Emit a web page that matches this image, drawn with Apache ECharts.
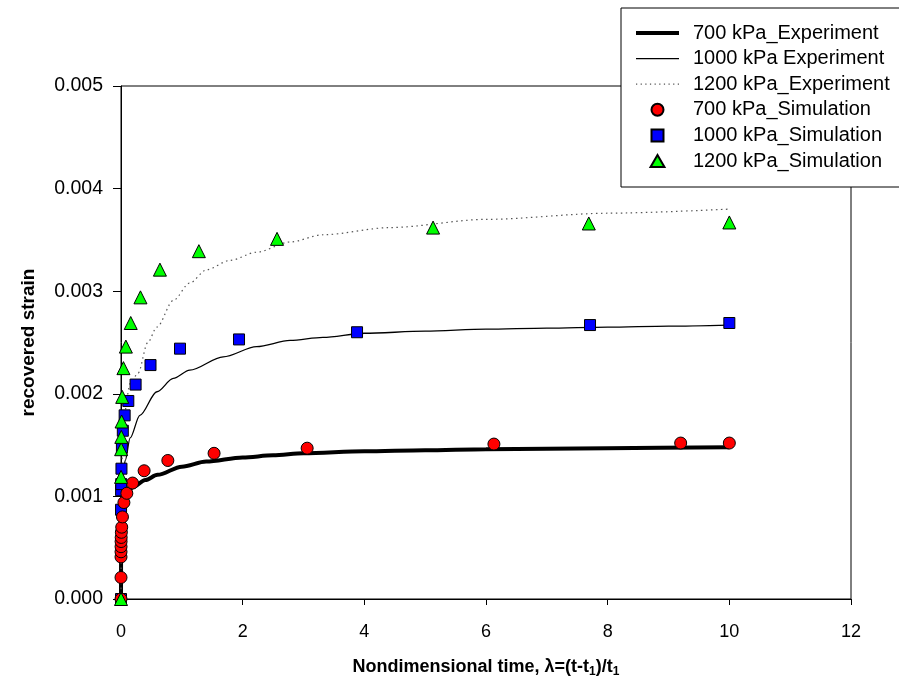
<!DOCTYPE html>
<html>
<head>
<meta charset="utf-8">
<script src="https://cdn.jsdelivr.net/npm/echarts@6/dist/echarts.min.js"></script>
<style>html,body{margin:0;padding:0;background:#fff}#c{width:899px;height:689px}</style>
</head>
<body>
<div id="c"></div>
<script>
// ---- data (x = nondimensional time, y = recovered strain) ----
const exp700 = [[0,0],[0.002,0.0005],[0.01,0.00085],[0.03,0.00097],[0.08,0.00103],[0.2,0.00109],[0.4,0.00116],[0.6,0.00121],[1.0,0.00129],[1.4,0.00134],[2.0,0.00138],[2.5,0.0014],[3.0,0.00142],[4.0,0.00144],[5,0.00145],[6,0.00146],[8,0.00147],[10,0.00148]];
const exp1000 = [[0,0],[0.005,0.0008],[0.03,0.0012],[0.07,0.00135],[0.15,0.00157],[0.31,0.00179],[0.59,0.00202],[0.86,0.00215],[1.13,0.00223],[1.68,0.00236],[2.23,0.00246],[2.78,0.00252],[3.32,0.00255],[4.0,0.00259],[5,0.00261],[6,0.00263],[7,0.00264],[8,0.00265],[9,0.00266],[10,0.00267]];
const exp1200 = [[0,0],[0.01,0.0013],[0.05,0.0018],[0.15,0.0021],[0.28,0.0022],[0.44,0.0025],[0.59,0.00265],[0.86,0.00291],[1.13,0.00308],[1.41,0.00321],[1.79,0.0033],[2.23,0.00338],[2.78,0.00348],[3.32,0.00355],[4.42,0.00362],[6,0.0037],[8,0.00376],[10,0.0038]];
const sim700 = [[0,0],[0.0001,0.00021],[0.0002,0.00041],[0.0004,0.00046],[0.0008,0.00051],[0.0015,0.00056],[0.003,0.0006],[0.006,0.00065],[0.012,0.0007],[0.024,0.0008],[0.048,0.00094],[0.096,0.00103],[0.19,0.00113],[0.38,0.00125],[0.77,0.00135],[1.53,0.00142],[3.06,0.00147],[6.13,0.00151],[9.2,0.00152],[10,0.00152]];
const sim1000 = [[0,0],[0.001,0.00087],[0.002,0.00106],[0.004,0.00112],[0.0075,0.00127],[0.015,0.00148],[0.03,0.00164],[0.06,0.00179],[0.12,0.00193],[0.24,0.00209],[0.485,0.00228],[0.97,0.00244],[1.94,0.00253],[3.88,0.0026],[7.71,0.00267],[10,0.00269]];
const sim1200 = [[0,0],[0.00125,0.00119],[0.0025,0.00146],[0.005,0.00158],[0.01,0.00173],[0.02,0.00197],[0.04,0.00225],[0.08,0.00246],[0.16,0.00269],[0.32,0.00294],[0.64,0.00321],[1.28,0.00339],[2.565,0.00351],[5.13,0.00362],[7.69,0.00366],[10,0.00367]];
const xTicks = {min: 0, max: 12, interval: 2};
const yTicks = {min: 0, max: 0.005, interval: 0.001};
const names = ['700 kPa_Experiment','1000 kPa Experiment','1200 kPa_Experiment','700 kPa_Simulation','1000 kPa_Simulation','1200 kPa_Simulation'];

const chart = echarts.init(document.getElementById('c'), null, {renderer: 'canvas'});
const sans = '"Liberation Sans", Arial, sans-serif';
const mk = {borderColor: '#000', borderWidth: 1, opacity: 1};
let dots = '';
for (let i = 0; i < 10; i++) dots += 'M' + (i * 4.5) + ',0h1.2v1.2h-1.2z';
const legendIcons = [
  'path://M0,0H43V4H0Z',
  'path://M0,0H43V1.3H0Z',
  'path://' + dots,
  'circle',
  'path://M0,0H10V10H0Z',
  'path://M5.5,0L11,9.5L0,9.5Z'
];
chart.setOption({
  animation: false,
  backgroundColor: '#fff',
  grid: {left: 121, right: 48, top: 86, bottom: 90, show: true, borderColor: '#000', borderWidth: 1, backgroundColor: 'transparent'},
  legend: {
    orient: 'vertical', left: 621, top: 8,
    padding: [15, 50, 16, 15],
    backgroundColor: '#fff', borderColor: '#000', borderWidth: 1, borderRadius: 0,
    itemWidth: 43, itemHeight: 12, itemGap: 5.6, symbolKeepAspect: true,
    textStyle: {fontFamily: sans, fontSize: 20, lineHeight: 20, color: '#000', padding: [0, 0, 0, 9]},
    data: names.map((n, i) => {
      const d = {name: n, icon: legendIcons[i]};
      if (i < 3) d.itemStyle = {borderWidth: 0, color: i === 2 ? '#555' : '#000'};
      return d;
    })
  },
  xAxis: {
    type: 'value', min: xTicks.min, max: xTicks.max, interval: xTicks.interval,
    name: 'Nondimensional time, λ=(t-t{s|1})/t{s|1}',
    nameLocation: 'middle', nameGap: 58,
    nameTextStyle: {fontFamily: sans, fontSize: 18, fontWeight: 'bold', color: '#000',
      rich: {s: {fontFamily: sans, fontSize: 12, fontWeight: 'bold', color: '#000', verticalAlign: 'bottom', padding: [9, 0, 0, 0]}}},
    axisLine: {show: true, lineStyle: {color: '#000', width: 1}},
    axisTick: {show: true, length: 6, lineStyle: {color: '#000'}},
    axisLabel: {fontFamily: sans, fontSize: 18, color: '#000', margin: 24},
    splitLine: {show: false}
  },
  yAxis: {
    type: 'value', min: yTicks.min, max: yTicks.max, interval: yTicks.interval,
    name: 'recovered strain', nameLocation: 'middle', nameGap: 83, nameRotate: 90,
    nameTextStyle: {fontFamily: sans, fontSize: 19, fontWeight: 'bold', color: '#000'},
    axisLine: {show: true, lineStyle: {color: '#000', width: 1}},
    axisTick: {show: true, length: 8, lineStyle: {color: '#000'}},
    axisLabel: {fontFamily: sans, fontSize: 19.5, color: '#000', margin: 18, formatter: v => v.toFixed(3)},
    splitLine: {show: false}
  },
  series: [
    {name: names[0], type: 'line', data: exp700, symbol: 'none', smooth: 0.3, smoothMonotone: 'x', lineStyle: {color: '#000', width: 4}, itemStyle: {color: '#000'}, z: 2},
    {name: names[1], type: 'line', data: exp1000, symbol: 'none', smooth: 0.3, smoothMonotone: 'x', lineStyle: {color: '#000', width: 1.3}, itemStyle: {color: '#000'}, z: 2},
    {name: names[2], type: 'line', data: exp1200, symbol: 'none', smooth: 0.3, smoothMonotone: 'x', lineStyle: {color: '#555', width: 1.2, type: [1.5, 3.5]}, itemStyle: {color: '#555'}, z: 2},
    {name: names[3], type: 'scatter', data: sim700, symbol: 'circle', symbolSize: 12, itemStyle: Object.assign({color: '#ff0000'}, mk), z: 5},
    {name: names[4], type: 'scatter', data: sim1000, symbol: 'rect', symbolSize: 11, itemStyle: Object.assign({color: '#0000ff'}, mk), z: 4},
    {name: names[5], type: 'scatter', data: sim1200, symbol: 'triangle', symbolSize: 13, itemStyle: Object.assign({color: '#00ff00'}, mk), z: 6}
  ]
});
</script>
</body>
</html>
